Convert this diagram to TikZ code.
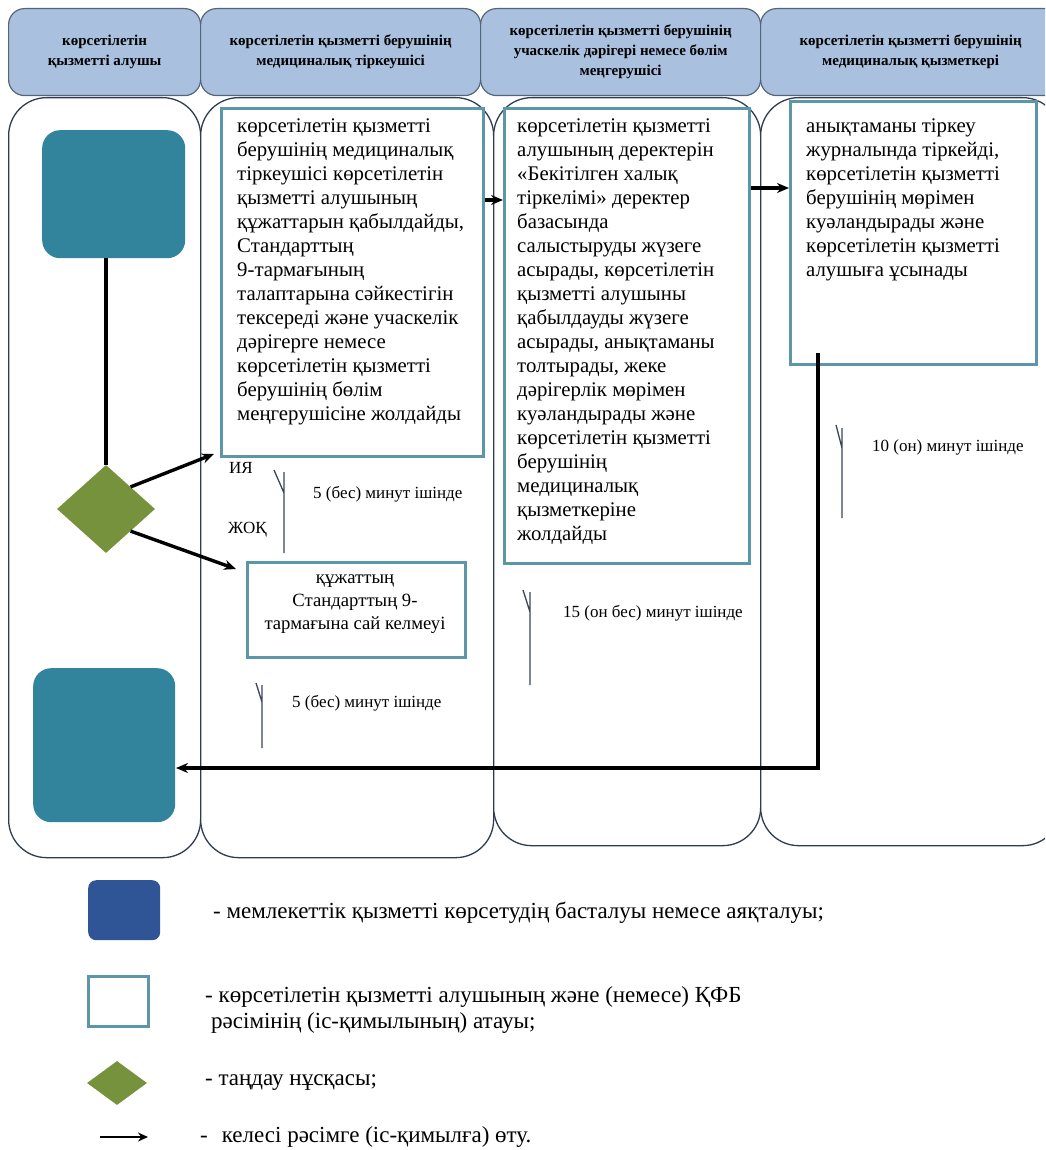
\documentclass[tikz,border=0pt]{standalone}
\usepackage{fontspec}
\setmainfont{Liberation Serif}
\usetikzlibrary{arrows.meta,shapes.geometric}
\definecolor{hdrfill}{HTML}{A9C0DE}
\definecolor{hdrline}{HTML}{55657A}
\definecolor{laneline}{HTML}{2E3B50}
\definecolor{tealfill}{HTML}{31849B}
\definecolor{boxline}{HTML}{5B97A9}
\definecolor{dgreen}{HTML}{76923C}
\definecolor{legblue}{HTML}{2F5597}
\definecolor{markline}{HTML}{3A4658}
\tikzset{
 hdr/.style={draw=hdrline, fill=hdrfill, line width=1.2pt, rounded corners=16pt, anchor=north west, inner sep=0pt, align=center, font=\fontsize{15}{20}\selectfont\bfseries},
 lane/.style={draw=laneline, fill=white, line width=1.3pt, rounded corners=38pt, anchor=north west, inner sep=0pt},
 term/.style={fill=tealfill, rounded corners=18pt, anchor=north west, inner sep=0pt},
 act/.style={draw=boxline, line width=3pt, fill=white, anchor=north west, inner sep=0pt},
 btxt/.style={font=\fontsize{20.8}{24}\selectfont, align=left, anchor=north west, inner sep=0pt},
 ttxt/.style={font=\fontsize{17}{20}\selectfont, anchor=west, inner sep=0pt},
 lbl/.style={font=\fontsize{17}{20}\selectfont, anchor=west, inner sep=0pt},
 ltxt/.style={font=\fontsize{23}{26}\selectfont, anchor=west, inner sep=0pt, align=left},
 tline/.style={draw=markline, line width=1.3pt},
 arr/.style={line width=3.4pt, -{Stealth[length=12pt,width=10pt]}},
}
\begin{document}
\begin{tikzpicture}[x=1pt,y=-1pt]
\useasboundingbox (0,0) rectangle (1045,1150);
\clip (0,0) rectangle (1045,1150);
\fill[white] (0,0) rectangle (1045,1150);
% lanes
\node[lane, minimum width=192pt, minimum height=760pt] (l1) at (8,97) {};
\node[lane, minimum width=293pt, minimum height=760pt] (l2) at (200,97) {};
\node[lane, minimum width=267pt, minimum height=748pt] (l3) at (493,97) {};
\node[lane, minimum width=300pt, minimum height=748pt] (l4) at (760,97) {};
% headers
\node[hdr, minimum width=192pt, minimum height=87pt] (h1) at (8,8) {көрсетілетін\\қызметті алушы};
\node[hdr, minimum width=280pt, minimum height=87pt] (h2) at (200,8) {көрсетілетін қызметті берушінің\\медициналық тіркеушісі};
\node[hdr, minimum width=280pt, minimum height=87pt] (h3) at (480,8) {көрсетілетін қызметті берушінің\\учаскелік дәрігері немесе бөлім\\меңгерушісі};
\node[hdr, minimum width=300pt, minimum height=87pt] (h4) at (760,8) {көрсетілетін қызметті берушінің\\медициналық қызметкері\hspace{12pt}};
% start / end
\node[term, minimum width=143pt, minimum height=128pt] (start) at (42,130) {};
\node[term, minimum width=142pt, minimum height=154pt] (end) at (33,668) {};
\node[diamond, fill=dgreen, minimum width=98pt, minimum height=88pt, inner sep=0pt] (dia) at (106,509) {};
% action boxes
\node[act, minimum width=262pt, minimum height=348pt] (A) at (220,107) {};
\node[act, minimum width=245pt, minimum height=455pt] (B) at (503,107) {};
\node[act, minimum width=246pt, minimum height=263pt] (C) at (789,100) {};
\node[act, minimum width=218pt, minimum height=95pt] (D) at (246,561) {};
\node[btxt] (At) at (237,119) {көрсетілетін қызметті\\берушінің медициналық\\тіркеушісі көрсетілетін\\қызметті алушының\\құжаттарын қабылдайды,\\Стандарттың\\9-тармағының\\талаптарына сәйкестігін\\тексереді және учаскелік\\дәрігерге немесе\\көрсетілетін қызметті\\берушінің бөлім\\меңгерушісіне жолдайды};
\node[btxt] (Bt) at (517,119) {көрсетілетін қызметті\\алушының деректерін\\«Бекітілген халық\\тіркелімі» деректер\\базасында\\салыстыруды жүзеге\\асырады, көрсетілетін\\қызметті алушыны\\қабылдауды жүзеге\\асырады, анықтаманы\\толтырады, жеке\\дәрігерлік мөрімен\\куәландырады және\\көрсетілетін қызметті\\берушінің\\медициналық\\қызметкеріне\\жолдайды};
\node[btxt] (Ct) at (806,119) {анықтаманы тіркеу\\журналында тіркейді,\\көрсетілетін қызметті\\берушінің мөрімен\\куәландырады және\\көрсетілетін қызметті\\алушыға ұсынады};
\node[font=\fontsize{18.7}{23}\selectfont, align=center, inner sep=0pt] (Dt) at (355,604) {құжаттың\\Стандарттың 9-\\тармағына сай келмеуі};
% connectors
\draw[line width=3.4pt] (start.south -| dia.north) -- (dia.north);
\coordinate (abY) at (0,200);
\coordinate (bcY) at (0,188);
\draw[arr] (A.east |- abY) -- (B.west |- abY);
\draw[arr] (B.east |- bcY) -- (C.west |- bcY);
\coordinate (yesTip) at (214,454);
\coordinate (noTip) at (236,569);
\draw[arr] (dia.north east) -- (yesTip);
\draw[arr] (dia.south east) -- (noTip);
\coordinate (rTop) at (818,353);
\coordinate (rCorner) at (818,768);
\coordinate (rTip) at (176,768);
\draw[arr] (rTop) -- (rCorner) -- (rTip);
% labels
\node[lbl] (yes) at (229,468) {ИЯ};
\node[lbl] (no) at (228,530) {ЖОҚ};
% time markers
\draw[tline] (274,470) -- (284,493) (284,472) -- (284,553);
\draw[tline] (256,683) -- (262,702) (262,685) -- (262,748);
\draw[tline] (523,590) -- (530,612) (530,592) -- (530,685);
\draw[tline] (836,425) -- (842,448) (842,428) -- (842,518);
\node[ttxt] (t1) at (313,494) {5 (бес) минут ішінде};
\node[ttxt] (t2) at (292,703) {5 (бес) минут ішінде};
\node[ttxt] (t3) at (563,613) {15 (он бес) минут ішінде};
\node[ttxt] (t4) at (872,447) {10 (он) минут ішінде};
% legend
\node[fill=legblue, rounded corners=8pt, minimum width=72pt, minimum height=60pt, anchor=north west, inner sep=0pt] (lg1) at (88,880) {};
\node[ltxt] (lg1t) at (213,913) {- мемлекеттік қызметті көрсетудің басталуы немесе аяқталуы;};
\node[act, minimum width=60pt, minimum height=50pt] (lg2) at (87,975) {};
\node[ltxt] (lg2t) at (205,1010) {- көрсетілетін қызметті алушының және (немесе) ҚФБ\\\hspace{6pt}рәсімінің (іс-қимылының) атауы;};
\node[diamond, fill=dgreen, minimum width=60pt, minimum height=44pt, inner sep=0pt] (lg3) at (117,1083) {};
\node[ltxt] (lg3t) at (205,1083) {- таңдау нұсқасы;};
\coordinate (lg4a) at (100,1137);
\coordinate (lg4b) at (148,1137);
\draw[line width=2.4pt, -{Stealth[length=10pt,width=9pt]}] (lg4a) -- (lg4b);
\node[ltxt] (lg4t) at (200,1137) {-\hspace{14pt}келесі рәсімге (іс-қимылға) өту.};
\end{tikzpicture}
\end{document}
